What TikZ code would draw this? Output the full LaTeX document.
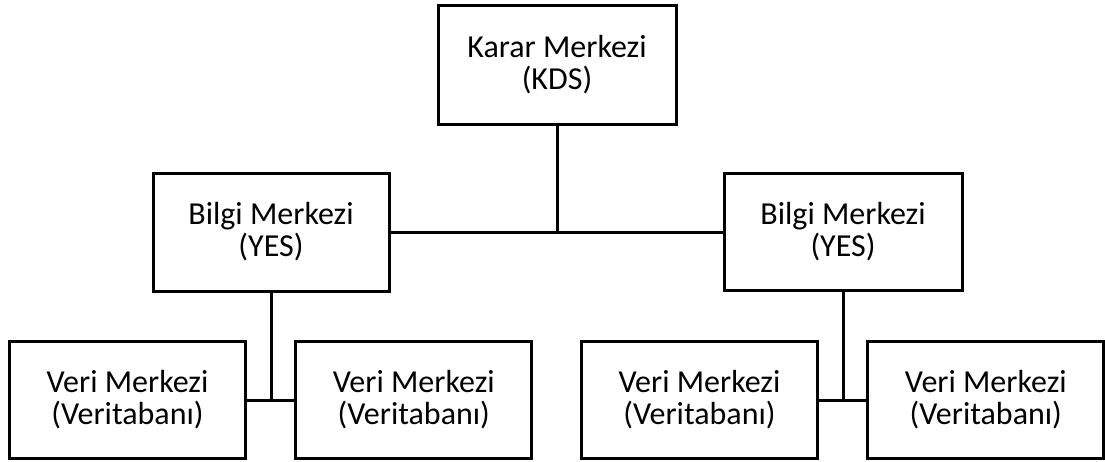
\documentclass[tikz,border=0pt]{standalone}
\usepackage{fontspec}
\setmainfont{Carlito}
\begin{document}
\begin{tikzpicture}[x=1pt,y=-1pt,
  box/.style={draw=black, line width=3pt, fill=white, minimum width=236pt, minimum height=117pt,
    inner sep=0pt, align=center, font=\fontsize{32}{32}\selectfont},
  link/.style={draw=black, line width=3pt}]
\useasboundingbox (0,0) rectangle (1105,461);
\node[box, minimum width=238pt, minimum height=119pt] (top) at (557,64.5) {Karar Merkezi\\(KDS)};
\node[box, minimum height=118pt] (lb) at (271,232) {Bilgi Merkezi\\(YES)};
\node[box, minimum width=238pt] (rb) at (843,232) {Bilgi Merkezi\\(YES)};
\node[box] (v1) at (127.5,400) {Veri Merkezi\\(Veritabanı)};
\node[box] (v2) at (413.8,400) {Veri Merkezi\\(Veritabanı)};
\node[box] (v3) at (699.5,400) {Veri Merkezi\\(Veritabanı)};
\node[box] (v4) at (985.8,400) {Veri Merkezi\\(Veritabanı)};
\coordinate (j0) at (top.south |- lb.east);
\coordinate (j1) at (lb.south |- v1.east);
\coordinate (j2) at (rb.south |- v3.east);
\draw[link] (top.south) -- (j0);
\draw[link] (lb.east) -- (rb.west);
\draw[link] (lb.south) -- (j1);
\draw[link] (v1.east) -- (v2.west);
\draw[link] (rb.south) -- (j2);
\draw[link] (v3.east) -- (v4.west);
\end{tikzpicture}
\end{document}
